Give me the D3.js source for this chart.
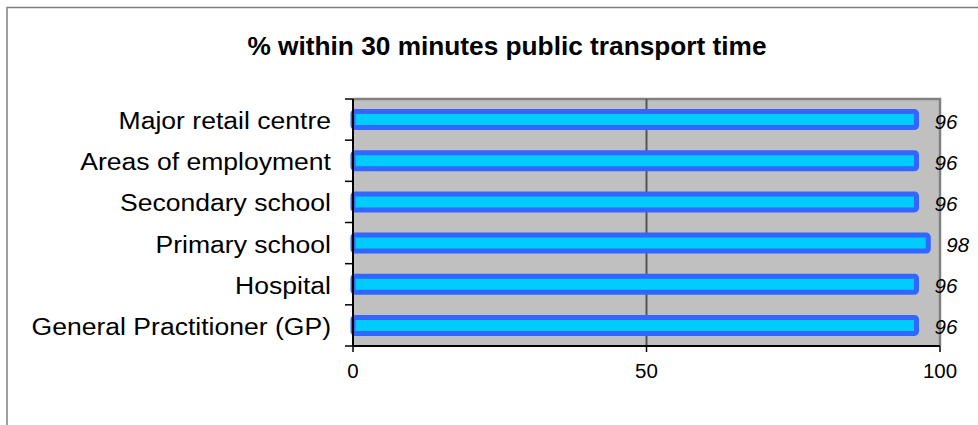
<!DOCTYPE html>
<html><head><meta charset="utf-8">
<script src="https://cdn.jsdelivr.net/npm/d3@7"></script>
<style>body{margin:0;background:#fff}svg{display:block}</style>
</head><body>
<script>
const categories = ["Major retail centre","Areas of employment","Secondary school","Primary school","Hospital","General Practitioner (GP)"];
const values = [96,96,96,98,96,96];
const xTicks = [0,50,100];
const title = "% within 30 minutes public transport time";

const W=978,H=425;
const svg=d3.select("body").append("svg").attr("width",W).attr("height",H);
const font="Liberation Sans, Arial, sans-serif";
svg.append("rect").attr("x",7).attr("y",7.5).attr("width",W+10).attr("height",H+10)
  .attr("fill","#fff").attr("stroke","#808080").attr("stroke-width",1.5);

const L=353,R=940,T=99,B=346;
const x=d3.scaleLinear().domain([0,100]).range([L,R]);
const y=d3.scaleBand().domain(categories).range([T,B]);

svg.append("rect").attr("x",L).attr("y",T).attr("width",R-L).attr("height",B-T).attr("fill","#C0C0C0");
svg.append("path").attr("d",`M${L},${T}H${R}V${B}`).attr("fill","none").attr("stroke","#808080").attr("stroke-width",2.5);
svg.selectAll(".grid").data(xTicks.filter(d=>d>0&&d<100)).join("line")
  .attr("x1",d=>x(d)).attr("x2",d=>x(d)).attr("y1",T).attr("y2",B)
  .attr("stroke","#555").attr("stroke-width",2);

const bh=16;
svg.selectAll(".bar").data(values).join("rect")
  .attr("x",x(0)).attr("y",(d,i)=>y(categories[i])+y.bandwidth()/2-bh/2)
  .attr("width",d=>x(d)-x(0)).attr("height",bh)
  .attr("rx",2)
  .attr("fill","#00CCFF").attr("stroke","#3366FF").attr("stroke-width",5);

svg.selectAll(".val").data(values).join("text")
  .attr("x",d=>x(d)+18).attr("y",(d,i)=>y(categories[i])+y.bandwidth()/2+9)
  .attr("font-family",font).attr("font-style","italic").attr("font-size",20.5)
  .attr("fill","#000").text(d=>d);

const ya=svg.append("g").attr("transform",`translate(${L},0)`);
ya.append("line").attr("x1",0).attr("x2",0).attr("y1",T).attr("y2",B).attr("stroke","#000").attr("stroke-width",2);
const yTickPos=[T,...categories.map(c=>y(c)+y.bandwidth())];
ya.selectAll(".t").data(yTickPos).join("line").attr("x1",-8).attr("x2",0).attr("y1",d=>d).attr("y2",d=>d).attr("stroke","#000").attr("stroke-width",1.5);
svg.selectAll(".cat").data(categories).join("text")
  .attr("transform",c=>`translate(331,${y(c)+y.bandwidth()/2+9.5}) scale(1.13,1)`)
  .attr("text-anchor","end")
  .attr("font-family",font).attr("font-size",23.5).attr("fill","#000").text(c=>c);

const xa=svg.append("g");
xa.append("line").attr("x1",L-1).attr("x2",R).attr("y1",B).attr("y2",B).attr("stroke","#000").attr("stroke-width",2);
xa.selectAll(".t").data(xTicks).join("line").attr("x1",d=>x(d)).attr("x2",d=>x(d)).attr("y1",B).attr("y2",B+6).attr("stroke","#000").attr("stroke-width",1.5);
xa.selectAll(".l").data(xTicks).join("text").attr("x",d=>x(d)).attr("y",B+32).attr("text-anchor","middle")
  .attr("font-family",font).attr("font-size",20.5).attr("fill","#000").text(d=>d);

svg.append("text").attr("transform","translate(507,55) scale(1.05,1)").attr("text-anchor","middle")
  .attr("font-family",font).attr("font-weight","bold").attr("font-size",25).attr("fill","#000").text(title);
</script>
</body></html>
